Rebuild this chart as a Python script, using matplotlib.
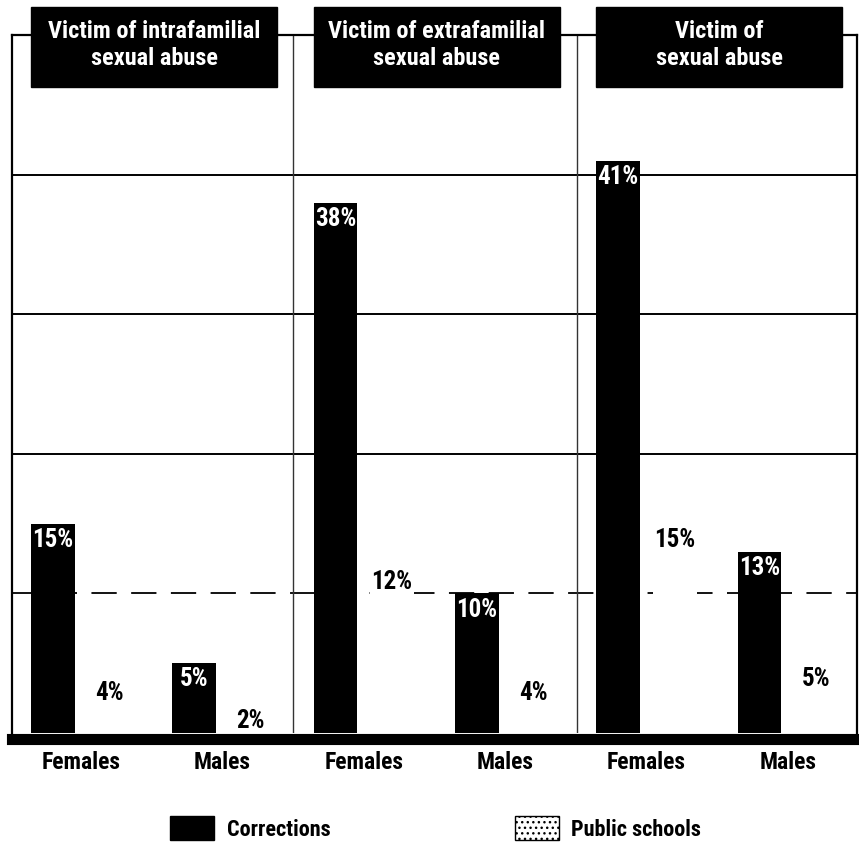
import matplotlib
matplotlib.use("Agg")
import matplotlib.pyplot as plt
from matplotlib import font_manager
from matplotlib.patches import Rectangle, Patch
import numpy as np

# pick a narrow face if one is installed
names = set(f.name for f in font_manager.fontManager.ttflist)
narrow = [n for n in ['Roboto Condensed', 'Open Sans Condensed', 'DejaVu Sans Condensed',
                      'Liberation Sans Narrow'] if n in names]
plt.rcParams['font.family'] = narrow + ['DejaVu Sans']
plt.rcParams['font.stretch'] = 'condensed'

# sexual abuse victims, corrections vs public schools (percent)
panels = ['Victim of intrafamilial\nsexual abuse',
          'Victim of extrafamilial\nsexual abuse',
          'Victim of\nsexual abuse']
groups = ['Females', 'Males', 'Females', 'Males', 'Females', 'Males']
corrections = [15, 5, 38, 10, 41, 13]
public_schools = [4, 2, 12, 4, 15, 5]

fig = plt.figure(figsize=(8.59, 8.46), dpi=100)
ax = fig.add_axes([12/859, 113/846, 845/859, 698/846])

x = np.arange(len(groups))
w = 0.31
off = 0.4

ax.bar(x, corrections, width=w, color='black', zorder=3)
ax.bar(x + off, public_schools, width=w, color='white', edgecolor='none', zorder=3)

for xi, v in zip(x, corrections):
    ax.annotate('%d%%' % v, (xi, v), xytext=(0, -3), textcoords='offset points',
                ha='center', va='top', color='white', fontsize=18, fontweight='bold', zorder=4)
for xi, v in zip(x + off, public_schools):
    ax.annotate('%d%%' % v, (xi, v), xytext=(0, -3), textcoords='offset points',
                ha='center', va='top', color='black', fontsize=18, fontweight='bold', zorder=4)

ax.set_xlim(-0.29, 5.69)
ax.set_ylim(0, 50)

# grid rows (the 10% row is broken up)
for g in [20, 30, 40]:
    ax.axhline(g, color='black', lw=1.4, zorder=1)
ax.axhline(10, color='black', lw=1.3, ls=(0, (14, 8)), zorder=1)
# dividers between the three panels
for d in [1.70, 3.71]:
    ax.axvline(d, color='#333333', lw=1.0, zorder=1)

for s in ['left', 'right', 'top']:
    ax.spines[s].set_linewidth(1.6)
ax.spines['bottom'].set_linewidth(8)
ax.spines['bottom'].set_position(('outward', 4))
for s in ax.spines.values():
    s.set_zorder(4.5)

ax.set_yticks([])
ax.set_xticks(x + 0.2)
ax.set_xticklabels(groups, fontsize=17, fontweight='bold')
ax.tick_params(axis='x', length=0, pad=9)

# panel headers
for i, title in enumerate(panels):
    left = 2*i - w/2
    right = 2*i + 1 + off + w/2 + 0.03
    ax.add_patch(Rectangle((left, 46.3), right - left, 5.7, color='black',
                           clip_on=False, zorder=5))
    ax.text((left + right)/2, 49.3, title, ha='center', va='center', color='white',
            fontsize=17.5, fontweight='bold', linespacing=1.22, clip_on=False, zorder=6)

handles = [Patch(facecolor='black', edgecolor='black'),
           Patch(facecolor='white', edgecolor='black', hatch='...')]
fig.legend(handles, ['Corrections', 'Public schools'], loc='upper left',
           bbox_to_anchor=(170/859, 1 - 816/846), ncol=2, frameon=False, fontsize=16,
           prop={'weight': 'bold', 'size': 16},
           borderpad=0, borderaxespad=0, handlelength=2.0, handleheight=1.3,
           columnspacing=8.3, handletextpad=0.55)

fig.savefig('out.png', dpi=100)
